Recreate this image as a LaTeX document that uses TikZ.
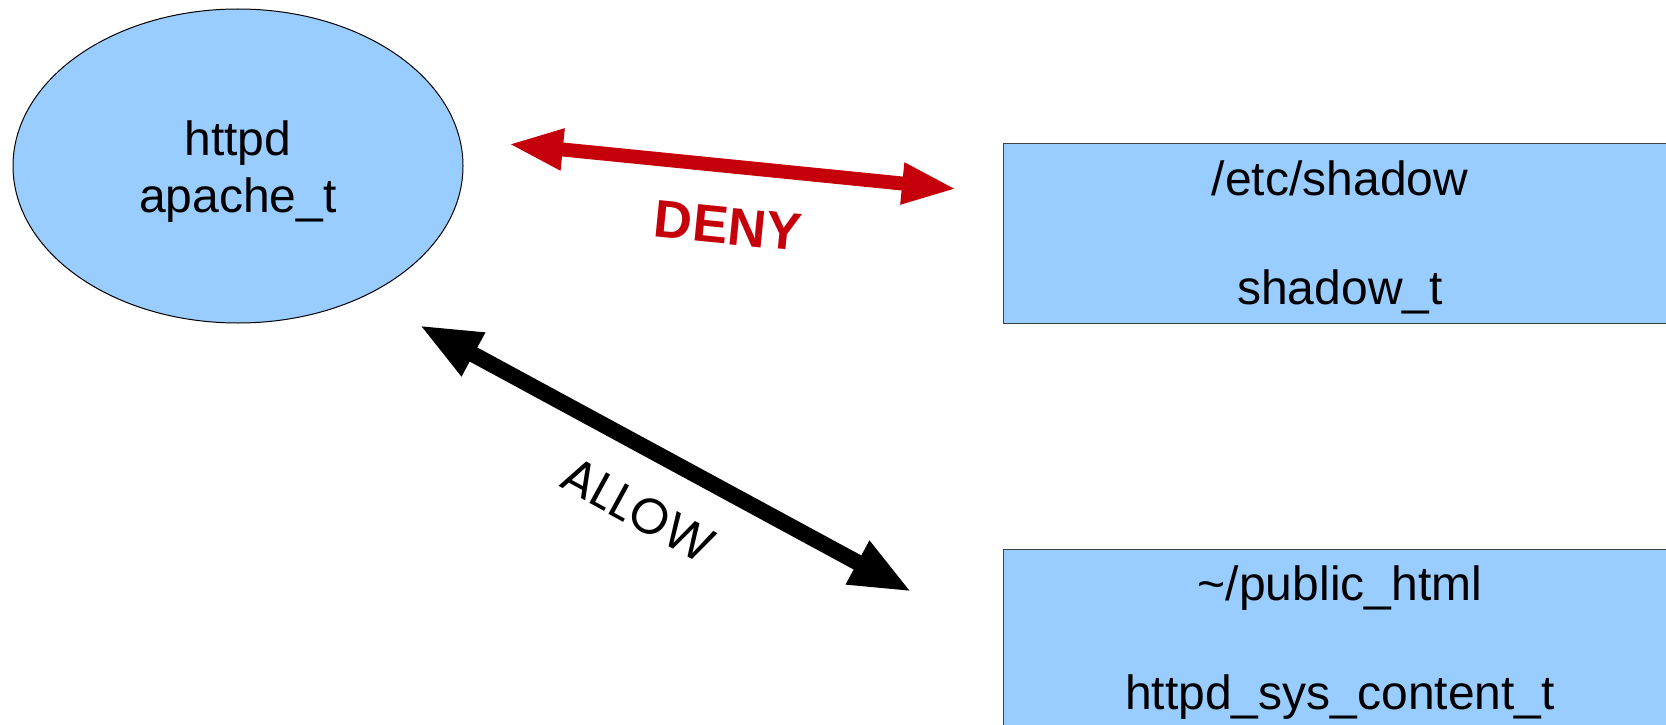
\documentclass[tikz,border=0pt]{standalone}
\usepackage{fontspec}
\setmainfont{Liberation Sans}
\newfontfamily\allowfont{Poppins}
\usetikzlibrary{shapes.geometric,arrows.meta}
\definecolor{nodeblue}{RGB}{153,204,255}
\definecolor{denyred}{RGB}{197,0,11}
\begin{document}
\begin{tikzpicture}[x=1pt,y=-1pt,
  blob/.style={ellipse, draw=black, line width=1pt, fill=nodeblue,
    minimum width=450pt, minimum height=314pt, inner sep=0pt},
  filebox/.style={rectangle, draw=black!75, line width=1pt, fill=nodeblue,
    minimum width=674pt, minimum height=180pt, inner sep=0pt},
  inlabel/.style={align=center, yshift=#1, inner sep=0pt},
  redarrow/.style={line width=14pt, draw=denyred,
    {Triangle[length=55pt,width=38pt]}-{Triangle[length=55pt,width=38pt]}},
  blackarrow/.style={line width=16pt, draw=black,
    {Triangle[length=62pt,width=45pt]}-{Triangle[length=62pt,width=45pt]}}]
\clip (0,0) rectangle (1666,725);
\node[blob, label={[inlabel=-6pt, font=\fontsize{48}{57}\selectfont]center:httpd\\apache\_t}] (proc) at (238,166) {};
\node[filebox, label={[inlabel=-4pt, font=\fontsize{48}{54.5}\selectfont]center:/etc/shadow\\\mbox{}\\shadow\_t}] (shadow) at (1340,233) {};
\node[filebox, label={[inlabel=-4pt, font=\fontsize{48}{54.5}\selectfont]center:\textasciitilde/public\_html\\\mbox{}\\httpd\_sys\_content\_t}] (public) at (1340,639) {};
\coordinate (denyL) at (508,144);
\coordinate (denyR) at (957,189);
\draw[redarrow] (denyL) -- (denyR);
\node[text=denyred, rotate=-5.7, font=\fontsize{53}{60}\selectfont\bfseries] (deny) at (728,226) {DENY};
\coordinate (allowL) at (419,325);
\coordinate (allowR) at (912,592);
\draw[blackarrow] (allowL) -- (allowR);
\node[rotate=-28.6, font=\allowfont\fontsize{50}{56}\selectfont] (allow) at (638,510) {ALLOW};
\end{tikzpicture}
\end{document}
